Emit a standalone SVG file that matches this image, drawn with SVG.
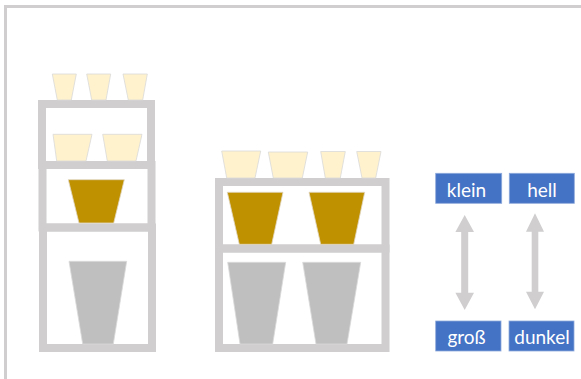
<svg xmlns="http://www.w3.org/2000/svg" width="581" height="379" viewBox="0 0 581 379">
  <style>
    .frame { fill: none; stroke: #d0cece; stroke-width: 8; }
    .edge { fill: none; stroke: #d0cece; stroke-width: 3; }
    .light { fill: #fff2cc; stroke: #d9d9d9; stroke-width: 0.8; }
    .gold { fill: #bf9000; stroke: #e0d6c0; stroke-width: 0.8; }
    .grey { fill: #bfbfbf; stroke: #d9d9d9; stroke-width: 0.8; }
    .tag rect { fill: #4472c4; stroke: #8eaadb; stroke-width: 0.8; }
    .tag text { fill: #ffffff; font-family: Lato, "Open Sans", "Liberation Sans", sans-serif; font-size: 19px; text-anchor: middle; }
    .arrow { fill: #d0cece; }
  </style>

  <rect width="581" height="379" fill="#ffffff"/>
  <!-- outer edge -->
  <path class="edge" d="M5.5 379 V6.5 H581"/>

  <!-- tall shelf on the left -->
  <g id="shelf-tall">
    <rect class="frame" x="42" y="104" width="109" height="61"/>
    <rect class="frame" x="42.5" y="165" width="109" height="62.5"/>
    <rect class="frame" x="43" y="227.5" width="109" height="120.5"/>
    <!-- cups on top -->
    <polygon class="light" points="52.3,74 76.3,74 71.3,100 57.3,100"/>
    <polygon class="light" points="86.7,74 110.7,74 106,100 91.7,100"/>
    <polygon class="light" points="123,74 147.3,74 142.7,100 128.3,100"/>
    <!-- top compartment -->
    <polygon class="light" points="53,134.3 92,134.3 86,161 56.7,161"/>
    <polygon class="light" points="102.7,134.3 142,134.3 136,161 107.3,161"/>
    <!-- middle compartment -->
    <polygon class="gold" points="68.3,179.7 124.3,179.7 113.7,223 79,223"/>
    <!-- bottom compartment -->
    <polygon class="grey" points="69,261.3 126.7,261.3 113.3,344 82.7,344"/>
  </g>

  <!-- low shelf in the middle -->
  <g id="shelf-low">
    <rect class="frame" x="219" y="182" width="166.5" height="66.5"/>
    <rect class="frame" x="219" y="248.5" width="166.5" height="99.5"/>
    <!-- cups on top -->
    <polygon class="light" points="221.7,151 260.7,151 255,178 226.7,178"/>
    <polygon class="light" points="268.3,152 307.7,152 302.3,178 273.3,178"/>
    <polygon class="light" points="320.7,151.5 345.3,151.5 340.3,178 325.3,178"/>
    <polygon class="light" points="356.7,151.5 381,151.5 375.7,178 362,178"/>
    <!-- upper compartment -->
    <polygon class="gold" points="227.3,192.3 283,192.3 271.7,244.3 239.3,244.3"/>
    <polygon class="gold" points="309,192.3 364.7,192.3 353.7,244.3 320.7,244.3"/>
    <!-- lower compartment -->
    <polygon class="grey" points="227.7,262.3 285.7,262.3 272.7,344 240,344"/>
    <polygon class="grey" points="302.7,262.3 360.7,262.3 347,344 316,344"/>
  </g>

  <!-- labels -->
  <g id="label-klein" class="tag">
    <rect x="435.7" y="173.3" width="66" height="30"/>
    <text x="466.5" y="197">klein</text>
  </g>
  <g id="label-hell" class="tag">
    <rect x="509.3" y="173.3" width="65" height="30"/>
    <text x="542" y="197">hell</text>
  </g>
  <g id="label-gross" class="tag">
    <rect x="435.7" y="321" width="65.3" height="30"/>
    <text x="466.5" y="344">groß</text>
  </g>
  <g id="label-dunkel" class="tag">
    <rect x="509" y="321" width="65" height="30"/>
    <text x="542" y="344">dunkel</text>
  </g>

  <!-- double-headed arrows -->
  <g id="connectors">
    <polygon class="arrow" points="464.7,215 474,232 468.2,232 468.2,292.7 474,292.7 464.7,310 455.4,292.7 461.2,292.7 461.2,232 455.4,232"/>
    <polygon class="arrow" points="535,213.3 544,231.7 538.3,231.7 538.3,291.7 544,291.7 535,309.3 526,291.7 531.7,291.7 531.7,231.7 526,231.7"/>
  </g>
</svg>
